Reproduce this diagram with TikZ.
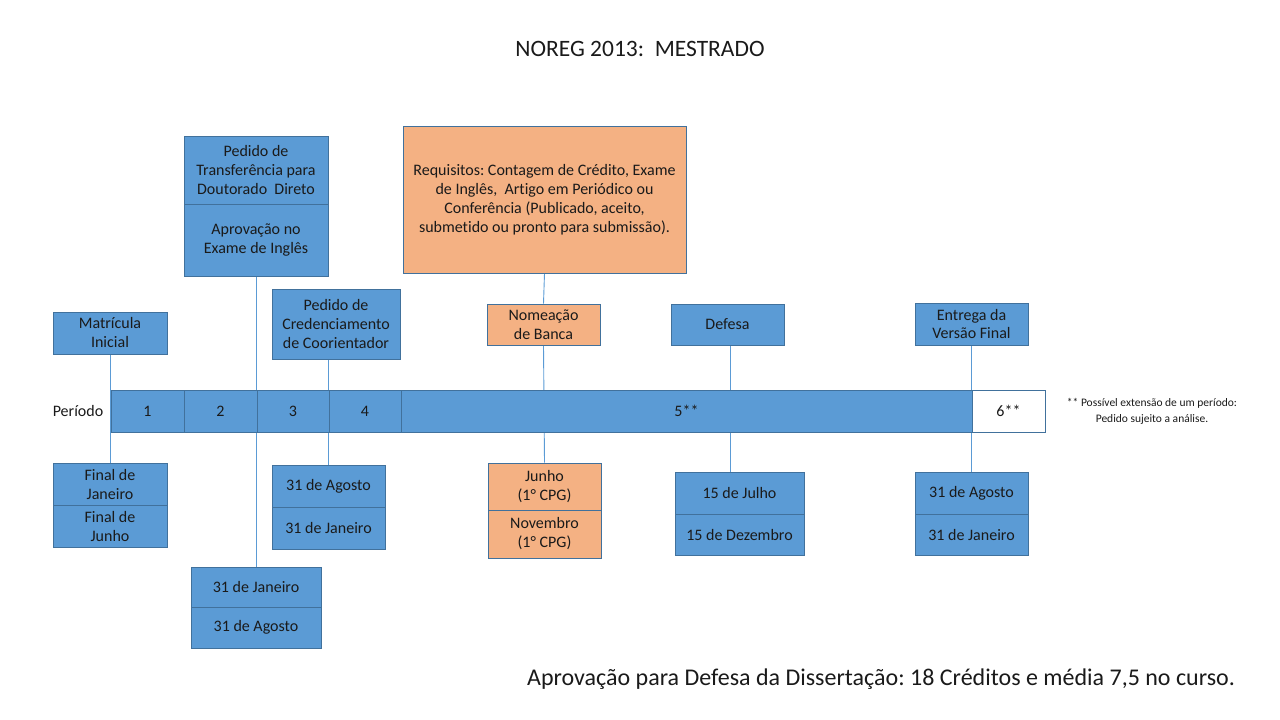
\documentclass[tikz,border=0pt]{standalone}
\usepackage{fontspec}
\setmainfont{Carlito}[Ligatures=NoCommon]
\usepackage{tikz}
\usetikzlibrary{positioning,backgrounds}
\definecolor{boxblue}{HTML}{5B9BD5}
\definecolor{boxedge}{HTML}{41719C}
\definecolor{boxorange}{HTML}{F4B183}
\definecolor{inktext}{HTML}{1A1A1A}
\frenchspacing

\begin{document}
\begin{tikzpicture}[
    x=1pt, y=-1pt,
    box/.style={
        rectangle,
        minimum width=113pt,
        minimum height=42pt,
        inner sep=0pt,
        align=center,
        draw=boxedge,
        fill=boxblue,
        line width=0.8pt,
        text=inktext,
        font=\fontsize{16}{19}\selectfont
    },
    obox/.style={
        box,
        fill=boxorange
    },
    segment/.style={
        box,
        minimum width=73pt
    },
    plain/.style={
        align=center,
        inner sep=0pt,
        text=inktext
    },
    link/.style={draw=boxblue, line width=0.9pt}
]

\useasboundingbox (0,0) rectangle (1280,720);

\node (title) [plain, font=\fontsize{23.5}{27}\selectfont] at (640,49) {NOREG 2013:\ \ MESTRADO};

% linha do tempo
\node (seg1) [segment] at (147.5,411) {1};
\node (seg2) [segment] at (220.5,411) {2};
\node (seg3) [segment, minimum width=72pt] at (293,411) {3};
\node (seg4) [segment, minimum width=72pt] at (365,411) {4};
\node (seg5) [segment, minimum width=571pt] at (686.5,411) {5**};
\node (seg6) [segment, fill=white] at (1008.5,411) {6**};
\node (periodo) [plain, font=\fontsize{16}{19}\selectfont] at (78,411) {Período};

\node (nota) [plain, font=\fontsize{11.5}{16}\selectfont] at (1152,411)
    {** Possível extensão de um período:\\Pedido sujeito a análise.};

% eventos acima
\node (mat) [box, minimum width=114pt] at (110,333) {Matrícula\\Inicial};
\node (transf) [box, minimum width=144pt, minimum height=68pt] at (256,170)
    {Pedido de\\Transferência para\\Doutorado\ \ Direto};
\node (ingles) [box, minimum width=144pt, minimum height=72pt] at (256,240)
    {Aprovação no\\Exame de Inglês};
\node (cred) [box, minimum width=128pt, minimum height=70pt] at (336,324)
    {Pedido de\\Credenciamento\\de Coorientador};
\node (req) [obox, minimum width=283pt, minimum height=147pt] at (544.5,199.5)
    {Requisitos: Contagem de Crédito, Exame\\de Inglês,\ \ Artigo em Periódico ou\\Conferência (Publicado, aceito,\\submetido ou pronto para submissão).};
\node (nom) [obox, minimum height=41pt] at (543.5,324.5) {Nomeação\\de Banca};
\node (def) [box, minimum height=41pt] at (727.5,324.5) {Defesa};
\node (ent) [box] at (971.5,324) {Entrega da\\Versão Final};

% prazos abaixo
\node (fjan) [box, minimum width=114pt] at (110,484) {Final de\\Janeiro};
\node (fjun) [box, minimum width=114pt] at (110,526) {Final de\\Junho};
\node (jan1) [box, minimum width=130pt, minimum height=40pt] at (256,587) {31 de Janeiro};
\node (ago1) [box, minimum width=130pt, minimum height=41pt] at (256,627.5) {31 de Agosto};
\node (ago2) [box] at (328.5,486) {31 de Agosto};
\node (jan2) [box] at (328.5,528) {31 de Janeiro};
\node (jun) [obox, minimum height=47pt] at (544.5,486.5) {Junho\\(1° CPG)};
\node (nov) [obox, minimum height=48pt] at (544.5,534) {Novembro\\(1° CPG)};
\node (jul) [box, minimum width=129pt] at (739.5,493) {15 de Julho};
\node (dez) [box, minimum width=129pt, minimum height=41pt] at (739.5,534.5) {15 de Dezembro};
\node (ago3) [box] at (971.5,493) {31 de Agosto};
\node (jan3) [box, minimum height=41pt] at (971.5,534.5) {31 de Janeiro};

\node (aprov) [plain, font=\fontsize{24}{28}\selectfont] at (881,679)
    {Aprovação para Defesa da Dissertação: 18 Créditos e média 7,5 no curso.};

\begin{pgfonlayer}{background}
\draw [link] (mat.south) -- (fjan.north);
\draw [link] (ingles.south) -- (jan1.north);
\draw [link] (ago2.north) -- (ago2.north |- cred.south);
\draw [link] (req.south) -- (nom.north);
\draw [link] (nom.south) -- (jun.north);
\draw [link] ([xshift=2.5pt]def.south) -- ([xshift=2.5pt]def.south |- jul.north);
\draw [link] (ent.south) -- (ago3.north);
\end{pgfonlayer}

\end{tikzpicture}
\end{document}
